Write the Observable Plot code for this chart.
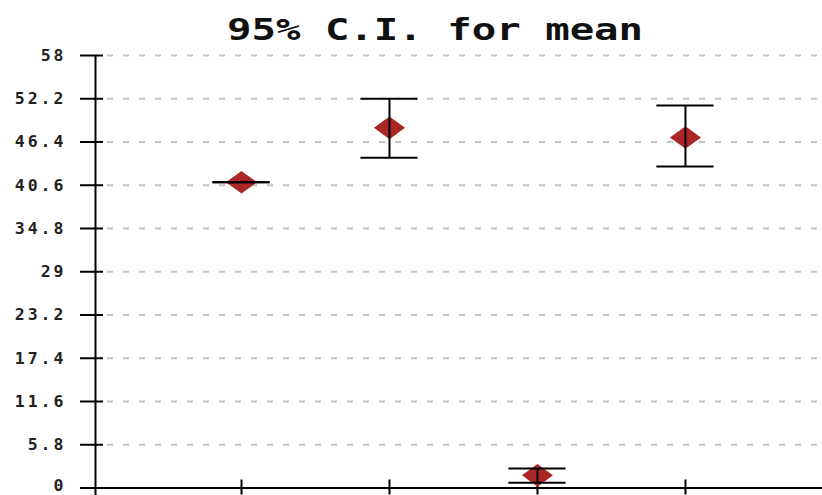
<!DOCTYPE html>
<html>
<head>
<meta charset="utf-8">
<script src="https://cdn.jsdelivr.net/npm/d3@7"></script>
<script src="https://cdn.jsdelivr.net/npm/@observablehq/plot@0.6"></script>
<style>
  html, body { margin: 0; padding: 0; background: #fff; }
  #title { height: 48px; line-height: 60px; overflow: visible; white-space: nowrap;
    font-family: "DejaVu Sans Mono", monospace; font-weight: bold; font-size: 30px; color: #111; }
  #title span { display: inline-block; margin-left: 227px; transform: scaleX(1.355); transform-origin: left center; }
  svg text { font-family: "DejaVu Sans Mono", monospace; font-weight: bold; letter-spacing: 3px; }
  svg g[aria-label="y-axis tick"] path, svg g[aria-label="x-axis tick"] path { stroke-width: 2px; stroke: #000; stroke-opacity: 1; }
</style>
</head>
<body>
<div id="title"><span>95% C.I. for mean</span></div>
<div id="chart"></div>
<script>
// Data
const categories = [1, 2, 3, 4];
const means = [41.0, 48.3, 1.7, 47.0];
const lowers = [41.0, 44.3, 0.7, 43.1];
const uppers = [41.0, 52.2, 2.6, 51.3];
const yTickValues = [0, 5.8, 11.6, 17.4, 23.2, 29, 34.8, 40.6, 46.4, 52.2, 58];
const yTickLabels = ["0", "5.8", "11.6", "17.4", "23.2", "29", "34.8", "40.6", "46.4", "52.2", "58"];

const rows = categories.map((c, i) => ({c, mean: means[i], lo: lowers[i], hi: uppers[i]}));
const labelOf = v => yTickLabels[yTickValues.indexOf(v)];

const xStart = 0.0135, xEnd = 4.926;
const half = 0.193; // whisker half-width in category units

const wideDiamond = {
  draw(ctx, size) {
    const r = Math.sqrt(size / Math.PI);
    const h = r * 0.73;
    ctx.moveTo(0, -h); ctx.lineTo(r, 0); ctx.lineTo(0, h); ctx.lineTo(-r, 0); ctx.closePath();
  }
};

const chart = Plot.plot({
  width: 822,
  height: 447,
  marginLeft: 95,
  marginRight: 0,
  marginTop: 7,
  marginBottom: 7.5,
  x: {type: "linear", domain: [xStart, xEnd], axis: null},
  y: {domain: [0, 58], axis: null},
  style: {fontSize: "16.5px", background: "#fff", overflow: "visible"},
  marks: [
    Plot.ruleY(yTickValues.filter(v => v > 0), {y: d => d, stroke: "#c4c4c4", strokeWidth: 2, strokeDasharray: "6,10", insetLeft: 12}),
    Plot.ruleY([0], {stroke: "#000", strokeWidth: 2}),
    Plot.ruleX([xStart], {y1: 58, y2: -1.1, stroke: "#000", strokeWidth: 2}),
    Plot.axisY({ticks: yTickValues, text: null, tickSize: 23, dx: 8, label: null}),
    Plot.axisY({ticks: yTickValues.filter(v => v > 0), tickFormat: labelOf, tickSize: 0, dx: 8, tickPadding: 37,
      label: null, fill: "#222", fontSize: 16.5}),
    Plot.axisY({ticks: [0], tickFormat: labelOf, tickSize: 0, dx: 8, dy: -2, tickPadding: 37,
      label: null, fill: "#222", fontSize: 16.5}),
    Plot.axisX({ticks: categories, tickFormat: () => "", tickSize: 15, dy: -8, label: null}),
    Plot.dot(rows, {x: "c", y: "mean", symbol: wideDiamond, r: 15.5, fill: "#ab2626", stroke: "none"}),
    Plot.ruleX(rows, {x: "c", y1: "lo", y2: "hi", stroke: "#000", strokeWidth: 2}),
    Plot.ruleY(rows, {y: "lo", x1: d => d.c - half, x2: d => d.c + half, stroke: "#000", strokeWidth: 2}),
    Plot.ruleY(rows, {y: "hi", x1: d => d.c - half, x2: d => d.c + half, stroke: "#000", strokeWidth: 2})
  ]
});
document.getElementById("chart").appendChild(chart);
</script>
</body>
</html>
